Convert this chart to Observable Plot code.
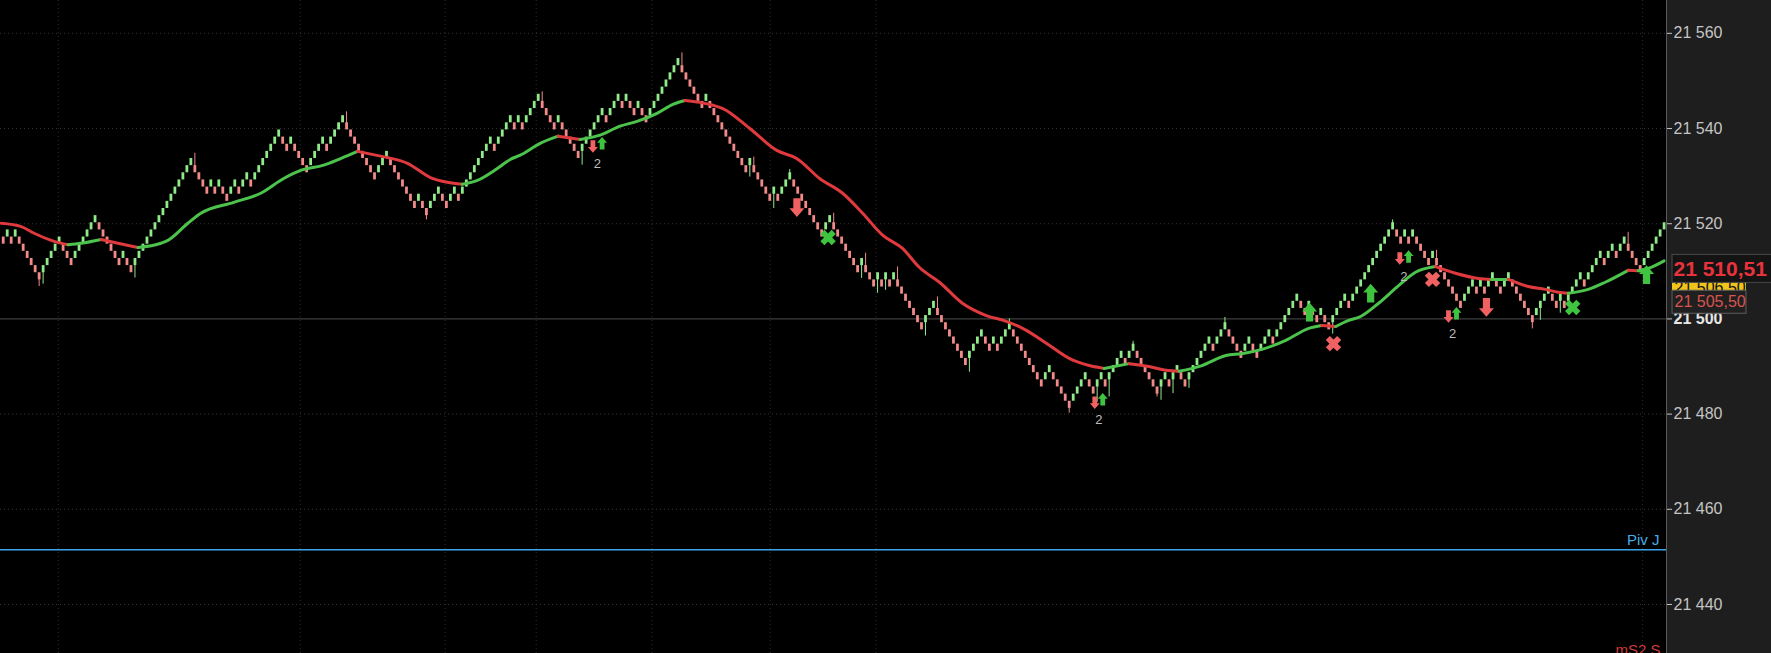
<!DOCTYPE html>
<html>
<head>
<meta charset="utf-8">
<script src="https://cdn.jsdelivr.net/npm/d3@7"></script>
<script src="https://cdn.jsdelivr.net/npm/@observablehq/plot@0.6"></script>
<style>
  html, body { margin: 0; padding: 0; background: #000; overflow: hidden; }
</style>
</head>
<body>
<div id="chart"></div>
<script>
// renko bricks, 1.5 pt box; brick before the first bar sits at 21 517,2
const boxSize = 1.5
const baseLevel = 21517.2
const moves = [
  "dudud", "ddddd", "uuuuu", "ddd", "uuuuuu", "dddddd", "u", "dd", "uuuuuu",
  "uuuuuuuuu", "dddd", "u", "d", "u", "dd", "uu", "d", "uu", "d", "uuuuuuu", "dd", "u", "dddd",
  "uuuu", "d", "uuuu", "dddddddd", "uuu", "ddddddd", "u", "dd", "uuu", "dd", "uu", "d", "uuuuuuuu", "d", "uuuu",
  "d", "u", "d", "uuuu", "dddd", "u", "ddddd", "uuuuuu", "d", "uuu", "d", "u", "dd", "u", "dd", "uuuuuuuu", "dddddd", "u", "dddddddd",
  "dd", "u", "ddddd", "u", "d", "uuu", "dddddddd", "uu", "ddddddd", "u", "ddd", "u", "d", "u", "d", "u", "d", "dddddd", "uu",
  "u", "dddddddd", "uuuu", "dd", "u", "d", "uuu", "dddddddd", "uu", "ddddd", "uuuu", "dd", "uu", "d", "uuuu", "d", "uu", "dddddd",
  "uu", "d", "uu", "dd", "uuuuuu", "d", "uuu", "dddd", "uu", "dd", "uuu", "d", "uuuuuu", "dd", "u", "dd", "u", "dd", "uuuu", "d", "uuuuuuuuuuu",
  "dd", "u", "d", "u", "dddd", "u", "ddddddd", "uuu", "d", "u", "d", "uu", "dd", "uu", "dddddd", "uuuu", "dd",
  "u", "d", "uuuu", "d", "uuuu", "d", "uu", "d", "uu", "dddd", "uuuuuu"
].join("")

// wicks: bar index and the price the wick reaches
const wickBars = [9, 10, 33, 48, 86, 106, 135, 145, 170, 187, 188, 193, 197, 208, 215, 216, 219, 221, 224, 231, 234, 242, 252, 267, 274, 277, 283, 289, 290, 293, 297, 306, 333, 348, 359, 383, 385, 390, 407]
const wickPrices = [21506.8, 21507.3, 21508.6, 21534.8, 21543.5, 21520.8, 21547.7, 21532.3, 21555.9, 21529.8, 21534.0, 21523.2, 21531.4, 21522.2, 21508.5, 21513.8, 21505.4, 21506.0, 21510.9, 21496.4, 21504.6, 21488.8, 21500.0, 21480.2, 21482.5, 21483.6, 21495.3, 21483.6, 21482.9, 21484.3, 21485.4, 21500.3, 21496.8, 21520.8, 21514.4, 21497.9, 21499.7, 21501.2, 21518.2]

// moving average
const maBars = [-0.5, 4.5, 7.75, 12.75, 16.25, 19.5, 24.5, 28.75, 33.75, 39.5, 41.25, 46.25, 49.5, 57.75, 64.5, 70.25, 74.5, 80.25, 84.5, 88.75, 94.5, 96.25, 101.25, 107, 111.25, 115, 118.75, 123.75, 127, 129.5, 134.5, 139, 144.5, 149.5, 154.5, 158.75, 163.75, 167.75, 170.75, 174.5, 177.75, 180.25, 187, 193.75, 198.75, 204.5, 210.25, 215.25, 220.25, 225.25, 229.5, 234.5, 240.25, 246.25, 251.25, 256.25, 261.25, 267, 272, 275.75, 282, 287, 291.25, 294.5, 300.25, 306.25, 310.25, 315.25, 321.25, 327, 330.25, 333.75, 337, 339.5, 344.5, 349.5, 353.75, 358.75, 363.75, 369.5, 372.75, 377, 382, 386.25, 389.5, 392, 397, 401.25, 407, 409.5, 412, 416]
const maValues = [21520.1, 21519.4, 21518.0, 21516.3, 21515.6, 21515.9, 21516.7, 21515.9, 21515.0, 21515.9, 21516.5, 21520.1, 21522.2, 21524.5, 21526.4, 21529.5, 21531.2, 21532.3, 21533.7, 21535.2, 21534.2, 21533.9, 21532.7, 21529.7, 21528.7, 21528.3, 21529.1, 21531.6, 21533.5, 21534.4, 21536.9, 21538.4, 21537.7, 21538.6, 21540.5, 21541.5, 21543.2, 21545.1, 21545.9, 21545.5, 21544.9, 21544.2, 21540.0, 21535.4, 21533.7, 21529.5, 21526.4, 21522.2, 21517.6, 21514.8, 21510.8, 21507.7, 21503.3, 21500.7, 21499.5, 21497.6, 21494.9, 21491.7, 21490.2, 21489.6, 21490.6, 21490.0, 21489.2, 21489.0, 21490.2, 21492.3, 21492.7, 21493.6, 21495.5, 21498.0, 21498.6, 21498.4, 21499.7, 21500.3, 21503.3, 21507.0, 21509.8, 21511.0, 21509.6, 21508.5, 21508.3, 21508.3, 21506.8, 21506.2, 21505.6, 21505.4, 21506.2, 21507.7, 21510.2, 21510.1, 21510.6, 21512.2]

// signals
const signalBars = [147.7, 150.0, 198.8, 206.6, 273.4, 275.4, 327.2, 333.2, 342.5, 349.8, 352.0, 358.0, 362.0, 364.0, 371.5, 393.1, 411.6]
const signalPrices = [21536.25, 21536.9, 21523.4, 21517.1, 21482.4, 21483.1, 21501.4, 21494.8, 21505.4, 21512.7, 21513.1, 21508.3, 21500.5, 21501.2, 21502.4, 21502.4, 21509.3]
const signalKinds = ["downSmall", "upSmall", "downBig", "xGreen", "downSmall", "upSmall", "upBig", "xRed", "upBig", "downSmall", "upSmall", "xRed", "downSmall", "upSmall", "downBig", "xGreen", "upBig"]
const countBars = [148.8, 274.4, 350.8, 363.0]
const countPrices = [21532.5, 21478.7, 21508.9, 21496.9]

const yTicks = [21440, 21460, 21480, 21500, 21520, 21540, 21560]
const gridBars = [13.8, 74.4, 110.7, 133.5, 162.5, 192.1, 218.6, 410.6]
const pivotLevel = 21451.5
const lastMa = 21510.51
const stopLevels = [21506.50, 21505.50]

const xDomain = [-0.68, 416.6]
const xMax = xDomain[1]
const upColor = "#90ea8a"
const downColor = "#f28a8a"
const maUp = "#4cc34c"
const maDown = "#e0393e"
const fmt = d => d3.format(",")(d).replace(",", " ")
const fmt2 = d => d3.format(",.2f")(d).replace(",", " ").replace(".", ",")

let lo = baseLevel, hi = baseLevel + boxSize
const bricks = Array.from(moves, (m, i) => {
  if (m === "u") { lo = hi; hi = hi + boxSize } else { hi = lo; lo = lo - boxSize }
  return {i, up: m === "u", lo, hi}
})

const wicks = wickBars.map((b, k) => ({bar: b, price: wickPrices[k], brick: bricks[b]}))

// split the average into runs by slope so each run gets one colour
const ma = maBars.map((b, k) => ({bar: b, value: maValues[k]}))
const maPts = []
let run = 0, prevUp = null
for (let k = 1; k < ma.length; k++) {
  const up = ma[k].value >= ma[k - 1].value
  if (up !== prevUp) { run++; maPts.push({...ma[k - 1], run, up}) }
  maPts.push({...ma[k], run, up})
  prevUp = up
}

const signals = signalBars.map((b, k) => ({bar: b, price: signalPrices[k], kind: signalKinds[k]}))
const counts = countBars.map((b, k) => ({bar: b, price: countPrices[k]}))

// block arrows and a fat cross as dot symbols
const arrow = dir => ({
  draw(context, size) {
    const r = Math.sqrt(size / Math.PI)
    const s = dir
    context.moveTo(0, -1.25 * r * s)
    context.lineTo(r, -0.1 * r * s)
    context.lineTo(0.48 * r, -0.1 * r * s)
    context.lineTo(0.48 * r, 1.25 * r * s)
    context.lineTo(-0.48 * r, 1.25 * r * s)
    context.lineTo(-0.48 * r, -0.1 * r * s)
    context.lineTo(-r, -0.1 * r * s)
    context.closePath()
  }
})
const cross = {
  draw(context, size) {
    const r = Math.sqrt(size / Math.PI)
    const a = r, t = 0.36 * r
    const pts = [[t, -a], [t, -t], [a, -t], [a, t], [t, t], [t, a], [-t, a], [-t, t], [-a, t], [-a, -t], [-t, -t], [-t, -a]]
    const c = Math.SQRT1_2
    pts.forEach(([x, y], k) => {
      const px = (x - y) * c, py = (x + y) * c
      if (k === 0) context.moveTo(px, py); else context.lineTo(px, py)
    })
    context.closePath()
  }
}
const symbolMarks = [
  ["upSmall", arrow(1), 5, "#3fc43f"],
  ["downSmall", arrow(-1), 5, "#f06262"],
  ["upBig", arrow(1), 7.5, "#3fc43f"],
  ["downBig", arrow(-1), 7.5, "#f06262"],
  ["xGreen", cross, 8, "#3fc43f"],
  ["xRed", cross, 8, "#f06262"]
].map(([kind, symbol, r, fill]) =>
  Plot.dot(signals.filter(d => d.kind === kind), {x: "bar", y: "price", symbol, r, fill, stroke: "none"})
)

const chart = Plot.plot({
  width: 1771,
  height: 653,
  marginLeft: 0,
  marginRight: 105,
  marginTop: 0,
  marginBottom: 0,
  style: {
    background: "linear-gradient(to right, #000 0 1666px, #1e1e1e 1666px)",
    color: "#c4c4c4",
    fontFamily: "Liberation Sans, Arial, sans-serif",
    fontSize: "16px"
  },
  x: {domain: xDomain, axis: null},
  y: {
    domain: [21429.7, 21566.9],
    axis: "right",
    ticks: yTicks,
    tickFormat: d => d === 21500 ? "" : fmt(d),
    tickSize: 5,
    tickPadding: 2,
    label: null
  },
  marks: [
    Plot.ruleY(yTicks.filter(d => d !== 21500), {stroke: "#333", strokeDasharray: "1,3"}),
    Plot.ruleX(gridBars, {stroke: "#2c2c2c", strokeDasharray: "1,3"}),
    Plot.ruleY([21500], {stroke: "#4e4e4e", strokeWidth: 1}),
    Plot.ruleY([pivotLevel], {stroke: "#3ea6e6", strokeWidth: 1.6}),
    Plot.text([pivotLevel], {x: xMax, y: d => d, dx: -7, dy: -10, text: () => "Piv J", textAnchor: "end", fill: "#45aee8", fontSize: 15}),
    Plot.text([21431.6], {x: xMax, y: d => d, dx: -6, text: () => "mS2 S", textAnchor: "end", lineAnchor: "top", fill: "#d23a3a", fontSize: 15}),
    Plot.ruleX(wicks, {x: "bar", y1: "price", y2: d => (d.brick.lo + d.brick.hi) / 2, stroke: d => d.brick.up ? upColor : downColor, strokeWidth: 1}),
    Plot.ruleX(bricks, {x: "i", y1: "lo", y2: "hi", stroke: d => d.up ? upColor : downColor, strokeWidth: 2.8}),
    Plot.line(maPts, {x: "bar", y: "value", z: "run", stroke: d => d.up ? maUp : maDown, strokeWidth: 3, curve: "monotone-x"}),
    ...symbolMarks,
    Plot.text(counts, {x: "bar", y: "price", text: () => "2", fill: "#bdbdbd", fontSize: 13}),
    Plot.ruleX([xMax], {stroke: "#5a5a5a"}),
    Plot.text([21500], {x: xMax, y: d => d, dx: 7, text: d => fmt(d), textAnchor: "start", fontWeight: "bold", fill: "#e6e6e6", fontSize: 16}),
    // price boxes on the axis
    Plot.rect([stopLevels[0]], {x1: xMax, x2: xMax, y1: d => d, y2: d => d, insetLeft: 6, insetRight: -80, insetTop: -7, insetBottom: -7, fill: "#f0c419"}),
    Plot.text([stopLevels[0]], {x: xMax, y: d => d, dx: 8, text: d => fmt2(d), textAnchor: "start", fill: "#111", fontSize: 16}),
    Plot.rect([stopLevels[1]], {x1: xMax, x2: xMax, y1: d => d, y2: d => d, insetLeft: 6, insetRight: -80, insetTop: -2, insetBottom: -21, fill: "#202020", stroke: "#5e5e5e"}),
    Plot.text([stopLevels[1]], {x: xMax, y: d => d, dx: 8, dy: 9.5, text: d => fmt2(d), textAnchor: "start", fill: "#d9534f", fontSize: 16}),
    Plot.rect([lastMa], {x1: xMax, x2: xMax, y1: d => d, y2: d => d, insetLeft: 6, insetRight: -106, insetTop: -14, insetBottom: -14, fill: "#141414", stroke: "#4a4a4a"}),
    Plot.text([lastMa], {x: xMax, y: d => d, dx: 7, text: d => fmt2(d), textAnchor: "start", fill: "#e8333c", fontSize: 21, fontWeight: "bold"})
  ]
})

d3.select("#chart").append(() => chart)
</script>
</body>
</html>
